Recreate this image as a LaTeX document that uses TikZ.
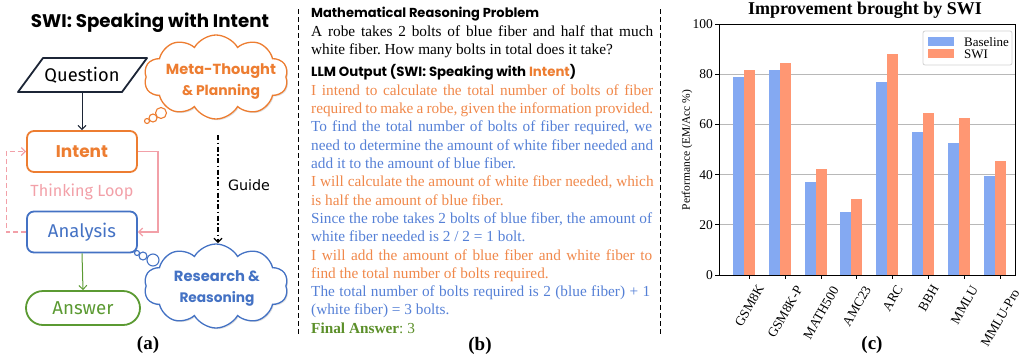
\documentclass[tikz,border=0pt]{standalone}
\usepackage{fontspec}
\setmainfont{Liberation Serif}
\newfontfamily\pop{Poppins}
\newfontfamily\fira{Fira Sans}
\newfontfamily\dejavu{DejaVu Sans}
\usetikzlibrary{arrows.meta,shapes.symbols,shadows}
\definecolor{cOr}{HTML}{ED7D31}
\definecolor{cBl}{HTML}{4472C4}
\definecolor{cGr}{HTML}{5B9A32}
\definecolor{cPk}{HTML}{F2A0A8}
\definecolor{cNv}{HTML}{1C2536}
\definecolor{tOr}{HTML}{F0884A}
\definecolor{tBl}{HTML}{5580D6}
\definecolor{tGr}{HTML}{5B8F29}
\definecolor{cBase}{HTML}{84A9F2}
\definecolor{cSwi}{HTML}{FF9773}
\definecolor{cGrid}{HTML}{B8B8B8}
\newcommand{\fitw}[2]{\resizebox{#1pt}{!}{#2}}
\newcommand{\jline}[2]{\makebox[#1pt][s]{#2}}
\frenchspacing
\begin{document}
\begin{tikzpicture}[x=1pt,y=-1pt,
  flowbox/.style={draw, rounded corners=7pt, line width=1.8pt, minimum width=110pt, minimum height=41pt, inner sep=0pt, fill=white},
  arr/.style={-{Straight Barb[length=4pt,width=8pt]}, line width=1pt},
  thought/.style={cloud, cloud puffs=10, cloud puff arc=120, aspect=1.7, line width=1.3pt, fill=white, drop shadow={shadow xshift=1.2pt, shadow yshift=-1.2pt, opacity=0.25}, minimum width=144pt, minimum height=84pt, inner sep=0pt},
  bubble/.style={circle, line width=1.1pt, fill=white, inner sep=0pt},
  ml/.style={anchor=base west, inner sep=0pt, font=\fontsize{15.3}{18}\selectfont},
  lab/.style={font=\fontsize{19}{19}\selectfont\bfseries},
  tick/.style={font=\fontsize{13.5}{13.5}\selectfont}]
\useasboundingbox (0,0) rectangle (1021,360);

% ---------------- (a) ----------------
\node (title) at (150,23) {\fitw{238}{\pop\bfseries SWI: Speaking with Intent}};
\draw[cNv, line width=1.8pt, line join=round] (43,58) -- (147,58) -- (122,92) -- (18,92) -- cycle;
\node[inner sep=0pt, minimum height=34pt] (q) at (82,75) {\fitw{75}{\fira Question}};
\node[flowbox, draw=cOr] (intent) at (82,151.5) {\fitw{52}{\pop\bfseries\color{cOr}Intent}};
\node[flowbox, draw=cBl] (analysis) at (82,232) {\fitw{68}{\fira\color{cBl}Analysis}};
\node[flowbox, draw=cGr, rounded corners=17pt, minimum width=114pt, minimum height=34pt] (answer) at (83,308) {\fitw{61}{\fira\color{cGr}Answer}};
\draw[arr, cNv] (q.south) -- (intent.north);
\draw[arr, cGr] (analysis.south) -- (answer.north);
\draw[arr, cPk, line width=1.2pt] (intent.east) -- ++(20,0) |- (analysis.east);
\draw[arr, cPk, line width=1.2pt, dash pattern=on 5pt off 3pt] (analysis.west) -- ++(-20,0) |- (intent.west);
\node (loop) at (82,192) {\fitw{103}{\fira\color{cPk}Thinking Loop}};

\node[thought, draw=cOr] (meta) at (216,77) {};
\node[bubble, draw=cOr, minimum size=11pt] (mb3) at (161,113) {};
\node[bubble, draw=cOr, minimum size=8pt] (mb2) at (153,118) {};
\node[bubble, draw=cOr, minimum size=5pt] (mb1) at (147,121) {};
\node[align=center, inner sep=0pt, font=\fontsize{14}{21}\selectfont] (metat) at (221,82)
  {\fitw{110}{\pop\bfseries\color{cOr}Meta-Thought}\\\fitw{78}{\pop\bfseries\color{cOr}\& Planning}};

\node[thought, draw=cBl] (res) at (216,286) {};
\node[bubble, draw=cBl, minimum size=12pt] (rb3) at (153,260) {};
\node[bubble, draw=cBl, minimum size=8pt] (rb2) at (143,256) {};
\node[bubble, draw=cBl, minimum size=5pt] (rb1) at (137,253) {};
\node[align=center, inner sep=0pt, font=\fontsize{14}{21}\selectfont] (rest) at (217,288)
  {\fitw{86}{\pop\bfseries\color{cBl}Research \&}\\\fitw{75}{\pop\bfseries\color{cBl}Reasoning}};

\coordinate (g1) at (218,135);
\coordinate (g2) at (218,243);
\draw[arr, black, line width=1.1pt, dash pattern=on 5pt off 2.5pt on 1.5pt off 2.5pt] (g1) -- (g2);
\node (guide) at (249,185) {\fitw{42}{\dejavu Guide}};
\node[lab] (la) at (148,345) {(a)};

% ---------------- (b) ----------------
\draw[line width=1pt, dash pattern=on 5pt off 3pt] (298,9) -- (298,334);
\draw[line width=1pt, dash pattern=on 5pt off 3pt] (660,9) -- (660,334);
\node[anchor=base west, inner sep=0pt] (h1) at (311,17) {\fitw{228}{\pop\bfseries Mathematical Reasoning Problem}};
\node[ml] (p1) at (311,36.5) {\jline{342}{A robe takes 2 bolts of blue fiber and half that much}};
\node[ml] (p2) at (311,54.8) {white fiber. How many bolts in total does it take?};
\node[anchor=base west, inner sep=0pt] (h2) at (311,76) {\fitw{265}{\pop\bfseries LLM Output (SWI: Speaking with \textcolor{cOr}{Intent})}};
\node[ml, text=tOr] (o1) at (311,95.3) {\jline{342}{I intend to calculate the total number of bolts of fiber}};
\node[ml, text=tOr] (o2) at (311,113.6) {\jline{342}{required to make a robe, given the information provided.}};
\node[ml, text=tBl] (o3) at (311,131.9) {\jline{341}{To find the total number of bolts of fiber required, we}};
\node[ml, text=tBl] (o4) at (311,150.2) {need to determine the amount of white fiber needed and};
\node[ml, text=tBl] (o5) at (311,168.5) {add it to the amount of blue fiber.};
\node[ml, text=tOr] (o6) at (311,186.8) {I will calculate the amount of white fiber needed, which};
\node[ml, text=tOr] (o7) at (311,205.1) {is half the amount of blue fiber.};
\node[ml, text=tBl] (o8) at (311,223.4) {\jline{341}{Since the robe takes 2 bolts of blue fiber, the amount of}};
\node[ml, text=tBl] (o9) at (311,241.7) {white fiber needed is 2 / 2 = 1 bolt.};
\node[ml, text=tOr] (o10) at (311,260) {\jline{341}{I will add the amount of blue fiber and white fiber to}};
\node[ml, text=tOr] (o11) at (311,278.3) {find the total number of bolts required.};
\node[ml, text=tBl] (o12) at (311,296.6) {\jline{339}{The total number of bolts required is 2 (blue fiber) + 1}};
\node[ml, text=tBl] (o13) at (311,314.9) {(white fiber) = 3 bolts.};
\node[ml, text=tGr] (fa) at (311,333.2) {\textbf{Final Answer}: 3};
\node[lab] (lb) at (480,346) {(b)};

% ---------------- (c) ----------------
\node[font=\fontsize{18}{18}\selectfont\bfseries] (ctitle) at (865,10) {Improvement brought by SWI};
\foreach \v in {20,40,60,80}
  \draw[cGrid, line width=0.9pt] (719,{275-2.51*\v}) -- (1015,{275-2.51*\v});
\foreach \i/\lab/\b/\s/\ly in {0/GSM8K/78.9/81.7/306, 1/GSM8K-P/81.5/84.5/312, 2/MATH500/36.9/42.2/313, 3/AMC23/25.1/30.3/306, 4/ARC/76.9/88.2/298, 5/BBH/57.0/64.5/298, 6/MMLU/52.6/62.5/305, 7/MMLU-Pro/39.4/45.4/318}{
  \pgfmathsetmacro\t{749.3+35.85*\i}
  \fill[cBase] ({\t-16.5},275) rectangle ({\t-5.5},{275-2.51*\b});
  \fill[cSwi] ({\t-5.5},275) rectangle ({\t+5.5},{275-2.51*\s});
  \draw[line width=0.8pt] (\t,275) -- (\t,279);
  \node[rotate=60, inner sep=0pt, font=\fontsize{13.3}{13.3}\selectfont] (xl\i) at (\t,\ly) {\lab};
}
\foreach \v in {0,20,40,60,80,100}{
  \draw[line width=0.8pt] (719,{275-2.51*\v}) -- (715,{275-2.51*\v});
  \node[tick, anchor=east, inner sep=0pt] (yl\v) at (713,{275-2.51*\v}) {\v};
}
\draw[line width=0.9pt] (719,24) rectangle (1015,275);
\node[rotate=90, font=\fontsize{11.5}{11.5}\selectfont] (ylab) at (687,150) {Performance (EM/Acc \%)};
\draw[gray!35, line width=0.8pt, rounded corners=2pt, fill=white] (923,31) rectangle (1012,65);
\fill[cBase] (928,37) rectangle (954,46);
\fill[cSwi] (928,49) rectangle (954,58);
\node[anchor=west, inner sep=0pt, font=\fontsize{13}{13}\selectfont] (lg1) at (964,42) {Baseline};
\node[anchor=west, inner sep=0pt, font=\fontsize{13}{13}\selectfont] (lg2) at (964,54) {SWI};
\node[lab] (lc) at (872,345) {(c)};
\end{tikzpicture}
\end{document}
